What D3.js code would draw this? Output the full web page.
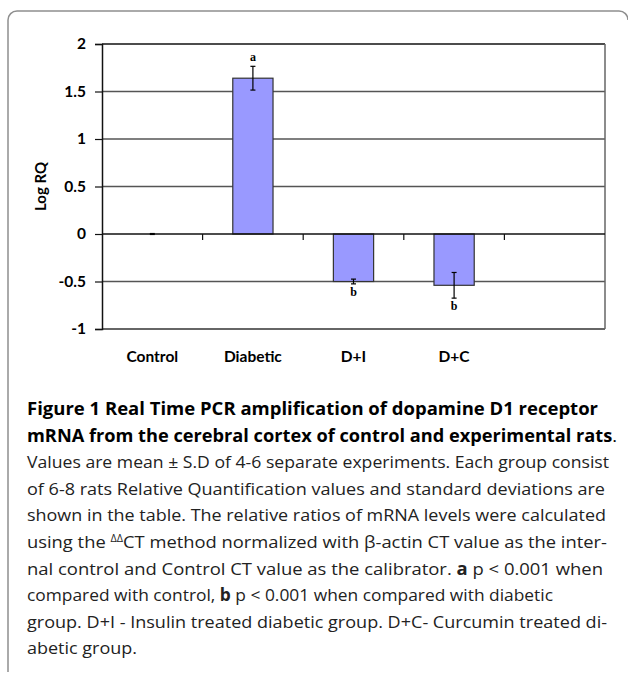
<!DOCTYPE html>
<html>
<head>
<meta charset="utf-8">
<script src="https://cdn.jsdelivr.net/npm/d3@7"></script>
<style>
  body { margin: 0; background: #fff; }
  svg { display: block; }
</style>
</head>
<body>
<div id="chart"></div>
<script>
// groups on the x axis (the last slot is empty, as in the original sheet)
var categories = ["Control", "Diabetic", "D+I", "D+C"];
var slots      = categories.concat([""]);
// mean log RQ and standard deviation per group
var logRQ      = [0, 1.64, -0.50, -0.54];
var sdev       = [0.005, 0.125, 0.025, 0.135];
var signif     = ["", "a", "b", "b"];
var yTicks     = [-1, -0.5, 0, 0.5, 1, 1.5, 2];

// caption: one entry per printed line, segments of [text, weight, extra]
var captionLines = [
  [["Figure 1", 700], [" Real Time PCR amplification of dopamine D1 receptor", 700]],
  [["mRNA from the cerebral cortex of control and experimental rats", 700], [".", 400]],
  [["Values are mean \u00b1 S.D of 4-6 separate experiments. Each group consist", 400]],
  [["of 6-8 rats Relative Quantification values and standard deviations are", 400]],
  [["shown in the table. The relative ratios of mRNA levels were calculated", 400]],
  [["using the ", 400], ["\u0394\u0394", 400, "sup"], ["CT method normalized with \u03b2-actin CT value as the inter-", 400, "down"]],
  [["nal control and Control CT value as the calibrator. ", 400], ["a", 700], [" p < 0.001 when", 400]],
  [["compared with control, ", 400], ["b", 700], [" p < 0.001 when compared with diabetic", 400]],
  [["group. D+I - Insulin treated diabetic group. D+C- Curcumin treated di-", 400]],
  [["abetic group.", 400]]
];
// right end of each caption line (ragged right)
var captionEnds = [598, 617, 609, 605, 606, 607, 603, 553, 607, 137];

var W = 628, H = 675;
var plot = {left: 102, right: 605, top: 44, bottom: 329};

var svg = d3.select("#chart").append("svg")
    .attr("width", W)
    .attr("height", H);

// rounded frame, open at the bottom
svg.append("path")
    .attr("d", "M8,672 V20 A9,9 0 0 1 17,11 H619 A9,9 0 0 1 628,20")
    .attr("fill", "none")
    .attr("stroke", "#8f8f8f")
    .attr("stroke-width", 1.5);

var x = d3.scaleBand()
    .domain(slots)
    .range([plot.left, plot.right])
    .paddingInner(0.6)
    .paddingOuter(0.3);

var y = d3.scaleLinear()
    .domain([-1, 2])
    .range([plot.bottom, plot.top]);

var chartFont = "Lato, 'Open Sans', sans-serif";

// horizontal grid lines
svg.append("g")
  .selectAll("line")
  .data(yTicks.filter(function(d) { return d != 0 && d != 2; }))
  .enter()
  .append("line")
    .attr("x1", plot.left)
    .attr("x2", plot.right)
    .attr("y1", function(d) { return y(d); })
    .attr("y2", function(d) { return y(d); })
    .attr("stroke", function(d) { return d == -1 ? "#333" : "#555"; })
    .attr("stroke-width", 1.5);

// top and right border of the plot area
svg.append("line")
    .attr("x1", plot.left).attr("x2", plot.right)
    .attr("y1", y(2)).attr("y2", y(2))
    .attr("stroke", "#111").attr("stroke-width", 1.5);
svg.append("line")
    .attr("x1", plot.right).attr("x2", plot.right)
    .attr("y1", y(2)).attr("y2", y(-1))
    .attr("stroke", "#666").attr("stroke-width", 1.5);

// bars
svg.append("g")
  .selectAll("rect")
  .data(categories)
  .enter()
  .append("rect")
    .attr("x", function(d) { return x(d); })
    .attr("width", x.bandwidth())
    .attr("y", function(d, i) { return y(Math.max(0, logRQ[i])); })
    .attr("height", function(d, i) { return Math.abs(y(logRQ[i]) - y(0)); })
    .attr("fill", "#9999ff")
    .attr("stroke", "#333")
    .attr("stroke-width", 1.2);

// zero line with category separators
svg.append("line")
    .attr("x1", plot.left).attr("x2", plot.right)
    .attr("y1", y(0)).attr("y2", y(0))
    .attr("stroke", "#111").attr("stroke-width", 1.5);

svg.append("g")
  .selectAll("line")
  .data(slots.slice(1))
  .enter()
  .append("line")
    .attr("x1", function(d) { return x(d) - x.step() * 0.3; })
    .attr("x2", function(d) { return x(d) - x.step() * 0.3; })
    .attr("y1", y(0))
    .attr("y2", y(0) + 6)
    .attr("stroke", "#111")
    .attr("stroke-width", 1.2);

// error bars
var err = svg.append("g")
  .selectAll("g")
  .data(categories)
  .enter()
  .append("g")
    .attr("stroke", "#000")
    .attr("stroke-width", 1.2);

err.append("line")
    .attr("x1", function(d) { return x(d) + x.bandwidth() / 2; })
    .attr("x2", function(d) { return x(d) + x.bandwidth() / 2; })
    .attr("y1", function(d, i) { return y(logRQ[i] + sdev[i]); })
    .attr("y2", function(d, i) { return y(logRQ[i] - sdev[i]); });

[1, -1].forEach(function(s) {
  err.append("line")
      .attr("x1", function(d) { return x(d) + x.bandwidth() / 2 - 2.5; })
      .attr("x2", function(d) { return x(d) + x.bandwidth() / 2 + 2.5; })
      .attr("y1", function(d, i) { return y(logRQ[i] + s * sdev[i]); })
      .attr("y2", function(d, i) { return y(logRQ[i] + s * sdev[i]); });
});

// significance letters
svg.append("g")
  .selectAll("text")
  .data(categories)
  .enter()
  .append("text")
    .attr("x", function(d) { return x(d) + x.bandwidth() / 2; })
    .attr("y", function(d, i) {
      return logRQ[i] >= 0 ? y(logRQ[i] + sdev[i]) - 5 : y(logRQ[i] - sdev[i]) + 12;
    })
    .attr("text-anchor", "middle")
    .style("font-family", "'Liberation Serif', serif")
    .style("font-weight", "bold")
    .style("font-size", "12px")
    .text(function(d, i) { return signif[i]; });

// y axis
var yAxis = svg.append("g")
    .attr("transform", "translate(" + plot.left + ",0)")
    .call(d3.axisLeft(y)
      .tickValues(yTicks)
      .tickSize(7)
      .tickPadding(9)
      .tickFormat(function(d) { return String(d); }));

yAxis.select(".domain")
    .attr("stroke", "#111")
    .attr("stroke-width", 1.5);
yAxis.selectAll(".tick line")
    .attr("stroke", "#111")
    .attr("stroke-width", 1.2);
yAxis.selectAll(".tick text")
    .attr("fill", "#000")
    .style("font-family", chartFont)
    .style("font-weight", "bold")
    .style("font-size", "15.5px");

svg.append("text")
    .attr("transform", "translate(46," + ((plot.top + plot.bottom) / 2) + ") rotate(-90)")
    .attr("text-anchor", "middle")
    .style("font-family", chartFont)
    .style("font-weight", "bold")
    .style("font-size", "15px")
    .text("Log RQ");

// category labels
svg.append("g")
  .selectAll("text")
  .data(categories)
  .enter()
  .append("text")
    .attr("x", function(d) { return x(d) + x.bandwidth() / 2; })
    .attr("y", 362)
    .attr("text-anchor", "middle")
    .style("font-family", chartFont)
    .style("font-weight", "bold")
    .style("font-size", "15.5px")
    .text(function(d) { return d; });

// caption
var capLeft = 27, capTop = 415, capStep = 26.6;

captionLines.forEach(function(line, i) {
  var t = svg.append("text")
      .attr("x", capLeft)
      .attr("y", capTop + i * capStep)
      .attr("textLength", captionEnds[i] - capLeft)
      .attr("lengthAdjust", "spacingAndGlyphs")
      .attr("fill", i < 2 ? "#000" : "#222")
      .style("font-family", "'Open Sans', sans-serif")
      .style("font-size", "17px");
  line.forEach(function(seg) {
    var sp = t.append("tspan")
        .style("font-weight", seg[1])
        .text(seg[0]);
    if (seg[2] == "sup") sp.attr("dy", -6).style("font-size", "10px");
    if (seg[2] == "down") sp.attr("dy", 6);
  });
});
</script>
</body>
</html>
